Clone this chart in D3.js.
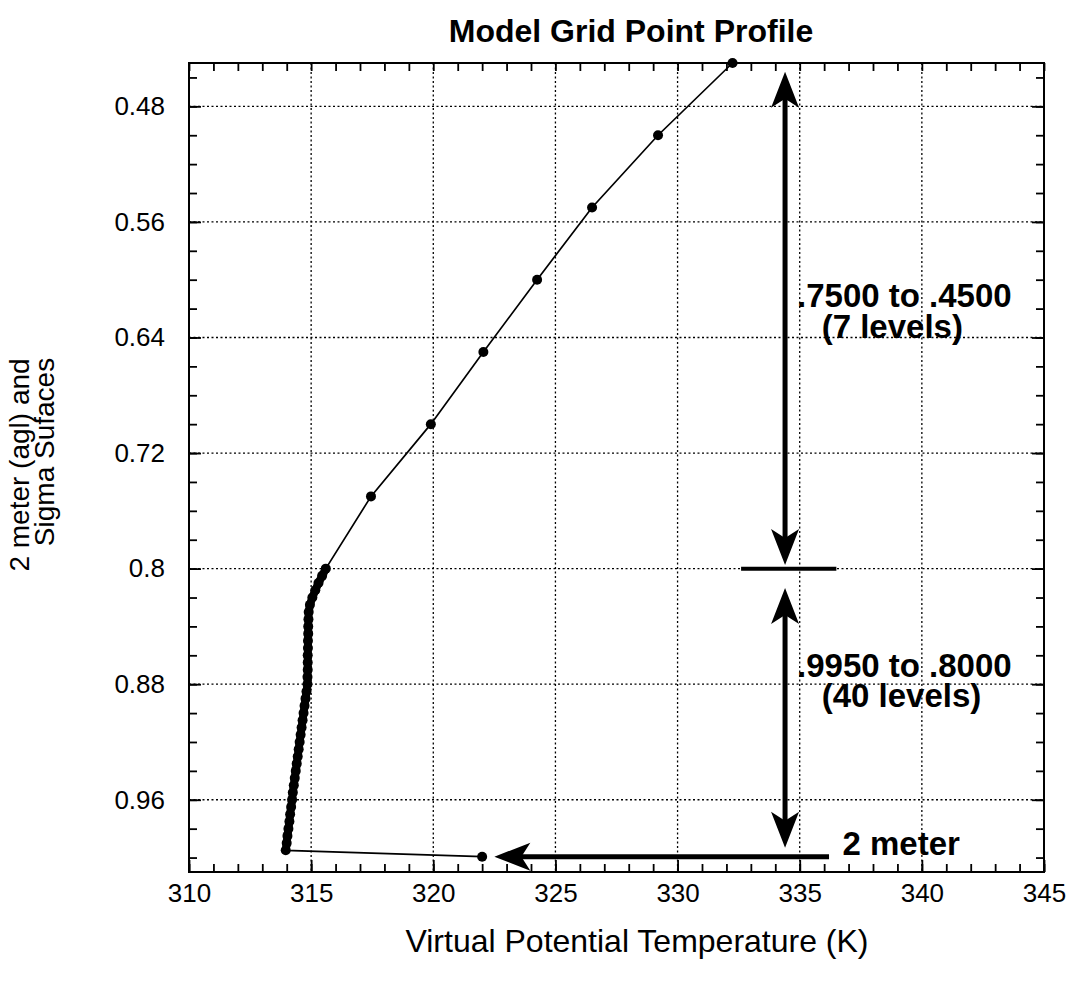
<!DOCTYPE html>
<html>
<head>
<meta charset="utf-8">
<script src="https://cdn.jsdelivr.net/npm/d3@7"></script>
<style>
  body { margin: 0; background: #fff; }
  text { font-family: "Liberation Sans", Arial, Helvetica, sans-serif; fill: #000; }
</style>
</head>
<body>
<svg id="chart" width="1078" height="984"></svg>
<script>
// Upper sigma levels (.7500 to .4500, 7 levels)
const upperSigma = [0.45, 0.50, 0.55, 0.60, 0.65, 0.70, 0.75];
const upperTheta = [332.25, 329.2, 326.5, 324.25, 322.05, 319.9, 317.45];

// Lower sigma levels (.9950 to .8000, 40 levels)
const lowerSigma = [0.800, 0.805, 0.810, 0.815, 0.820, 0.825, 0.830, 0.835, 0.840, 0.845,
                    0.850, 0.855, 0.860, 0.865, 0.870, 0.875, 0.880, 0.885, 0.890, 0.895,
                    0.900, 0.905, 0.910, 0.915, 0.920, 0.925, 0.930, 0.935, 0.940, 0.945,
                    0.950, 0.955, 0.960, 0.965, 0.970, 0.975, 0.980, 0.985, 0.990, 0.995];
const lowerTheta = [315.60, 315.45, 315.30, 315.17, 315.05, 314.95, 314.90, 314.89, 314.88, 314.88,
                    314.87, 314.87, 314.86, 314.86, 314.86, 314.85, 314.85, 314.81, 314.77, 314.73,
                    314.69, 314.65, 314.61, 314.57, 314.53, 314.49, 314.45, 314.41, 314.37, 314.33,
                    314.29, 314.25, 314.22, 314.18, 314.14, 314.11, 314.07, 314.03, 314.00, 313.96];

// 2 meter (agl) value
const twoMeterSigma = 0.9994;
const twoMeterTheta = 322.0;

// Axis ticks
const xTicks = [310, 315, 320, 325, 330, 335, 340, 345];
const yTicks = [0.48, 0.56, 0.64, 0.72, 0.80, 0.88, 0.96];
const yTickLabels = ['0.48', '0.56', '0.64', '0.72', '0.8', '0.88', '0.96'];

// Plot frame
const plotLeft = 189, plotRight = 1044, plotTop = 63, plotBottom = 872;

const svg = d3.select('#chart');

const x = d3.scaleLinear().domain([310, 345]).range([plotLeft, plotRight]);
const y = d3.scaleLinear().domain([0.45, 1.01]).range([plotTop, plotBottom]);

// Grid lines (dotted)
const grid = svg.append('g')
    .attr('stroke', '#000')
    .attr('stroke-width', 1.3)
    .attr('stroke-dasharray', '2,2.5');

grid.selectAll('.vgrid')
    .data(xTicks.slice(1, -1))
    .enter()
    .append('line')
    .attr('x1', d => x(d)).attr('x2', d => x(d))
    .attr('y1', plotTop).attr('y2', plotBottom);

grid.selectAll('.hgrid')
    .data(yTicks)
    .enter()
    .append('line')
    .attr('x1', plotLeft).attr('x2', plotRight)
    .attr('y1', d => y(d)).attr('y2', d => y(d));

// Axes with ticks pointing inwards
function styleAxis(g) {
    g.select('.domain').remove();
    g.selectAll('line').attr('stroke', '#000').attr('stroke-width', 1.8);
}

// minor ticks
svg.append('g')
    .attr('transform', 'translate(0,' + plotBottom + ')')
    .call(d3.axisBottom(x).tickValues(d3.range(310, 346, 1)).tickSize(-8).tickFormat(''))
    .call(styleAxis);
svg.append('g')
    .attr('transform', 'translate(0,' + plotTop + ')')
    .call(d3.axisTop(x).tickValues(d3.range(310, 346, 1)).tickSize(-8).tickFormat(''))
    .call(styleAxis);
svg.append('g')
    .attr('transform', 'translate(' + plotLeft + ',0)')
    .call(d3.axisLeft(y).tickValues(d3.range(0.46, 1.005, 0.02)).tickSize(-8).tickFormat(''))
    .call(styleAxis);
svg.append('g')
    .attr('transform', 'translate(' + plotRight + ',0)')
    .call(d3.axisRight(y).tickValues(d3.range(0.46, 1.005, 0.02)).tickSize(-8).tickFormat(''))
    .call(styleAxis);

// major ticks + labels
const xAxis = svg.append('g')
    .attr('transform', 'translate(0,' + plotBottom + ')')
    .call(d3.axisBottom(x).tickValues(xTicks).tickSize(-12).tickPadding(12).tickFormat(d3.format('d')))
    .call(styleAxis);
xAxis.selectAll('text').attr('font-size', 26);

const yAxis = svg.append('g')
    .attr('transform', 'translate(' + plotLeft + ',0)')
    .call(d3.axisLeft(y).tickValues(yTicks).tickSize(-12).tickPadding(24).tickFormat((d, i) => yTickLabels[i]))
    .call(styleAxis);
yAxis.selectAll('text').attr('font-size', 26);

svg.append('g')
    .attr('transform', 'translate(' + plotRight + ',0)')
    .call(d3.axisRight(y).tickValues(yTicks).tickSize(-12).tickFormat(''))
    .call(styleAxis);

// Frame
svg.append('rect')
    .attr('x', plotLeft).attr('y', plotTop)
    .attr('width', plotRight - plotLeft).attr('height', plotBottom - plotTop)
    .attr('fill', 'none')
    .attr('stroke', '#000')
    .attr('stroke-width', 2);

// Profile
const upper = upperSigma.map((s, i) => ({ s: s, t: upperTheta[i] }));
const lower = lowerSigma.map((s, i) => ({ s: s, t: lowerTheta[i] }));
const twoMeter = { s: twoMeterSigma, t: twoMeterTheta };
const profile = upper.concat(lower).concat([twoMeter]);

const line = d3.line().x(d => x(d.t)).y(d => y(d.s));

svg.append('path')
    .datum(profile)
    .attr('fill', 'none')
    .attr('stroke', '#000')
    .attr('stroke-width', 1.7)
    .attr('d', line);

// dense lower levels merge into a thick band
svg.append('path')
    .datum(lower)
    .attr('fill', 'none')
    .attr('stroke', '#000')
    .attr('stroke-width', 8)
    .attr('stroke-linejoin', 'round')
    .attr('d', line);

svg.selectAll('.pt')
    .data(profile)
    .enter()
    .append('circle')
    .attr('cx', d => x(d.t))
    .attr('cy', d => y(d.s))
    .attr('r', 5)
    .attr('fill', '#000');

// Arrows
function arrowHead(tipX, tipY, angle) {
    const L = 36, W = 14, N = 9;
    const pts = [[0, 0], [-L, -W], [-L + N, 0], [-L, W]];
    const c = Math.cos(angle), s = Math.sin(angle);
    const p = pts.map(q => [tipX + q[0] * c - q[1] * s, tipY + q[0] * s + q[1] * c]);
    svg.append('path')
        .attr('d', 'M' + p.map(q => q.join(',')).join('L') + 'Z')
        .attr('fill', '#000');
}

function shaft(x1, y1, x2, y2, w) {
    svg.append('line')
        .attr('x1', x1).attr('y1', y1).attr('x2', x2).attr('y2', y2)
        .attr('stroke', '#000').attr('stroke-width', w);
}

const arrowTheta = 334.4;
const ax = x(arrowTheta);

// upper double arrow (.7500 to .4500)
shaft(ax, y(0.456) + 20, ax, y(0.7975) - 20, 5);
arrowHead(ax, y(0.456), -Math.PI / 2);
arrowHead(ax, y(0.7975), Math.PI / 2);

// separator bar at sigma .8
shaft(x(332.6), y(0.80), x(336.5), y(0.80), 4);

// lower double arrow (.9950 to .8000)
shaft(ax, y(0.8134) + 20, ax, y(0.9932) - 20, 5);
arrowHead(ax, y(0.8134), -Math.PI / 2);
arrowHead(ax, y(0.9932), Math.PI / 2);

// 2 meter arrow
shaft(x(336.2), y(twoMeterSigma), x(322.5) + 20, y(twoMeterSigma), 5);
arrowHead(x(322.5), y(twoMeterSigma), Math.PI);

// Annotation text
const ann = svg.append('g').attr('font-weight', 'bold').attr('font-size', 33);
ann.append('text').attr('x', x(334.89)).attr('y', y(0.6189)).text('.7500 to .4500');
ann.append('text').attr('x', x(335.90)).attr('y', y(0.6404)).text('(7 levels)');
ann.append('text').attr('x', x(334.89)).attr('y', y(0.8750)).text('.9950 to .8000');
ann.append('text').attr('x', x(335.90)).attr('y', y(0.8958)).text('(40 levels)');
ann.append('text').attr('x', x(336.75)).attr('y', y(0.9981)).text('2 meter');

// Title
svg.append('text')
    .attr('x', 631).attr('y', 42)
    .attr('text-anchor', 'middle')
    .attr('font-weight', 'bold')
    .attr('font-size', 32)
    .text('Model Grid Point Profile');

// Axis titles
svg.append('text')
    .attr('x', 637).attr('y', 952)
    .attr('text-anchor', 'middle')
    .attr('font-size', 32)
    .text('Virtual Potential Temperature (K)');

svg.append('text')
    .attr('transform', 'translate(29,465) rotate(-90)')
    .attr('text-anchor', 'middle')
    .attr('font-size', 28)
    .text('2 meter (agl) and');
svg.append('text')
    .attr('transform', 'translate(54,452) rotate(-90)')
    .attr('text-anchor', 'middle')
    .attr('font-size', 28)
    .text('Sigma Sufaces');
</script>
</body>
</html>
